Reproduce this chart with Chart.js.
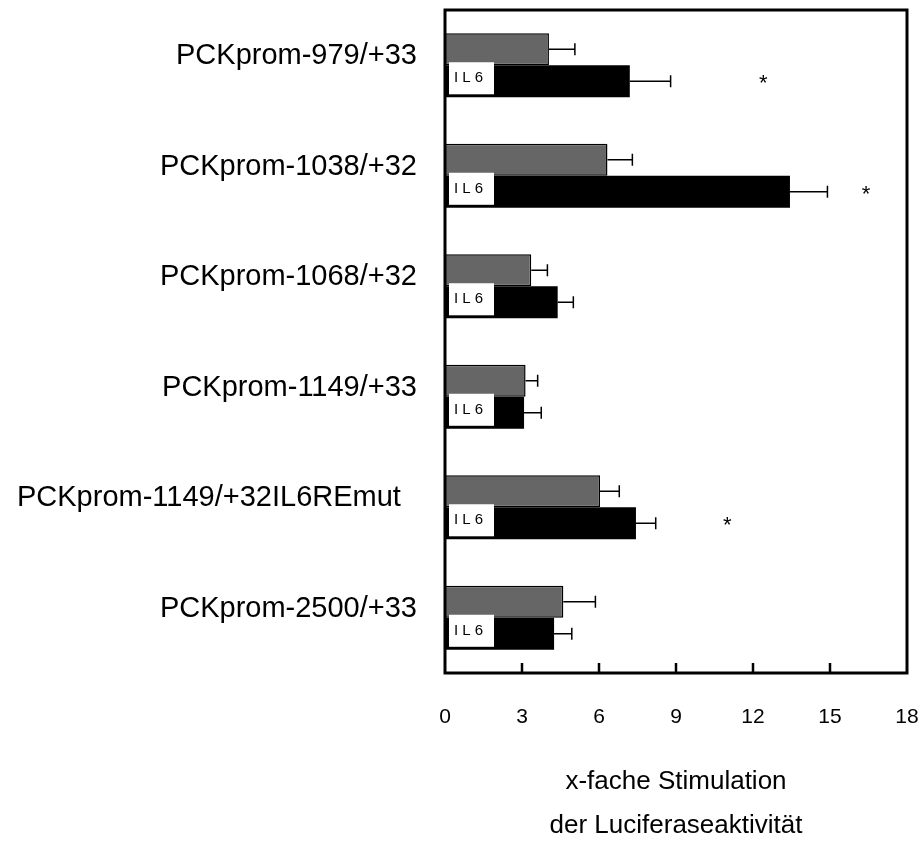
<!DOCTYPE html>
<html>
<head>
<meta charset="utf-8">
<script src="https://cdn.jsdelivr.net/npm/chart.js@4.4.1/dist/chart.umd.min.js"></script>
<style>
  body { margin: 0; background: #fff; }
  #wrap { width: 923px; height: 843px; }
</style>
</head>
<body>
<div id="wrap"><canvas id="chart" width="923" height="843"></canvas></div>
<script>
// data
const categories = [
  "PCKprom-979/+33",
  "PCKprom-1038/+32",
  "PCKprom-1068/+32",
  "PCKprom-1149/+33",
  "PCKprom-1149/+32IL6REmut  ",
  "PCKprom-2500/+33",
];
const controlValues = [4.05, 6.33, 3.36, 3.14, 6.04, 4.61];
const controlErrors = [1.01, 0.97, 0.63, 0.47, 0.75, 1.25];
const il6Values = [7.2, 13.44, 4.39, 3.08, 7.44, 4.25];
const il6Errors = [1.59, 1.46, 0.61, 0.67, 0.77, 0.69];
const starValues = [12.4, 16.4, null, null, 11.0, null];
const xTicks = [0, 3, 6, 9, 12, 15, 18];
const xTitle = ["x-fache Stimulation", "der Luciferaseaktivität"];

const FONT = "'Liberation Sans', Arial, sans-serif";

// stop the tick labels from pushing the plot area in
const noPad = (scale) => {
  scale.paddingTop = 0;
  scale.paddingBottom = 0;
  scale.paddingLeft = 0;
  scale.paddingRight = 0;
};

const overlay = {
  id: "overlay",
  afterDatasetsDraw(chart) {
    const ctx = chart.ctx;
    const xs = chart.scales.x;
    const area = chart.chartArea;
    const metaCtl = chart.getDatasetMeta(0);
    const metaIl6 = chart.getDatasetMeta(1);
    ctx.save();

    // error bars (positive side only)
    ctx.strokeStyle = "#000";
    ctx.lineWidth = 1.5;
    [[metaCtl, controlValues, controlErrors], [metaIl6, il6Values, il6Errors]].forEach(([meta, vals, errs]) => {
      meta.data.forEach((bar, i) => {
        const x0 = xs.getPixelForValue(vals[i]);
        const x1 = xs.getPixelForValue(vals[i] + errs[i]);
        ctx.beginPath();
        ctx.moveTo(x0, bar.y);
        ctx.lineTo(x1, bar.y);
        ctx.moveTo(x1, bar.y - 6);
        ctx.lineTo(x1, bar.y + 6);
        ctx.stroke();
      });
    });

    // white "IL6" tags on the stimulated bars
    metaIl6.data.forEach((bar) => {
      const h = bar.height;
      const top = bar.y - h / 2 - 3;
      ctx.fillStyle = "#fff";
      ctx.fillRect(area.left + 4, top, 45, h);
      ctx.fillStyle = "#000";
      ctx.font = "15px " + FONT;
      ctx.textAlign = "left";
      ctx.textBaseline = "middle";
      ctx.fillText("I L 6", area.left + 9, bar.y - 3);
    });

    // significance stars
    ctx.font = "22px " + FONT;
    ctx.textAlign = "center";
    ctx.textBaseline = "alphabetic";
    starValues.forEach((v, i) => {
      if (v === null) return;
      const bar = metaIl6.data[i];
      ctx.fillText("*", xs.getPixelForValue(v), bar.y + 9);
    });

    // frame and inward ticks
    ctx.lineWidth = 3;
    ctx.strokeRect(area.left, area.top, area.right - area.left, area.bottom - area.top);
    ctx.lineWidth = 2.5;
    xTicks.slice(1, -1).forEach((t) => {
      const px = xs.getPixelForValue(t);
      ctx.beginPath();
      ctx.moveTo(px, area.bottom);
      ctx.lineTo(px, area.bottom - 10);
      ctx.stroke();
    });
    ctx.restore();
  },
};

new Chart(document.getElementById("chart").getContext("2d"), {
  type: "bar",
  data: {
    labels: categories.map((c) => [c, ""]),
    datasets: [
      {
        data: controlValues,
        backgroundColor: "#666666",
        borderColor: "#000",
        borderWidth: 1.5,
      },
      {
        data: il6Values,
        backgroundColor: "#000",
        borderWidth: 0,
      },
    ],
  },
  options: {
    indexAxis: "y",
    responsive: false,
    animation: false,
    layout: { autoPadding: false, padding: { top: 10, right: 16, bottom: -5, left: 0 } },
    datasets: { bar: { barPercentage: 1.0, categoryPercentage: 0.58 } },
    plugins: { legend: { display: false }, tooltip: { enabled: false } },
    scales: {
      y: {
        grid: { display: false, drawTicks: false },
        border: { display: false },
        ticks: {
          color: "#000",
          padding: 28,
          font: { family: FONT, size: 29, lineHeight: 0.62 },
        },
        afterFit: (scale) => { scale.width = 445; noPad(scale); },
      },
      x: {
        min: 0,
        max: 18,
        grid: { display: false, drawTicks: false },
        border: { display: false },
        afterBuildTicks: (scale) => { scale.ticks = xTicks.map((v) => ({ value: v })); },
        ticks: {
          color: "#000",
          padding: 32,
          maxRotation: 0,
          font: { family: FONT, size: 21 },
        },
        title: {
          display: true,
          text: xTitle,
          color: "#000",
          padding: { top: 0, bottom: 0 },
          font: { family: FONT, size: 26, lineHeight: 1.69 },
        },
        afterFit: (scale) => { scale.height = 175; noPad(scale); },
      },
    },
  },
  plugins: [overlay],
});
</script>
</body>
</html>
